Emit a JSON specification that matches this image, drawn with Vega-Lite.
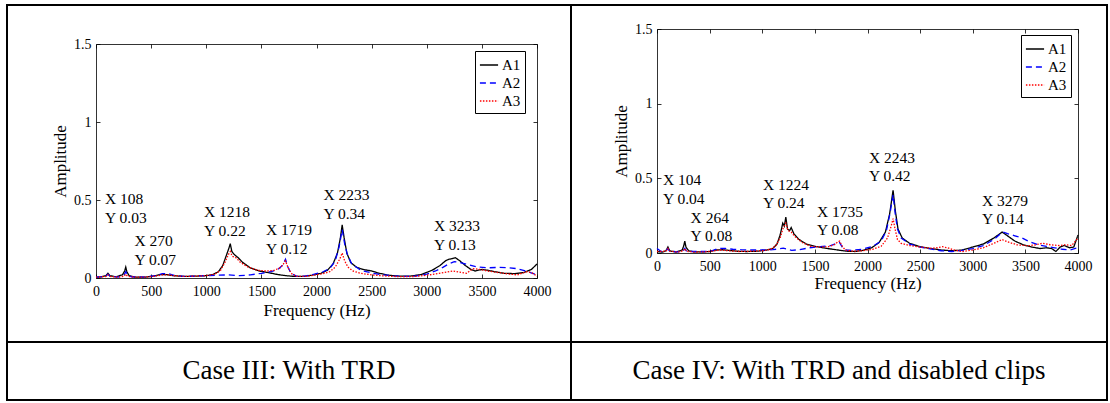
{
  "$schema": "https://vega.github.io/schema/vega-lite/v6.json",
  "padding": {"left": 6, "top": 4, "right": 0, "bottom": 0},
  "background": "white",
  "config": {
    "font": "Liberation Serif",
    "view": {"stroke": "black", "strokeWidth": 2},
    "concat": {"spacing": 0},
    "style": {"guide-label": {"font": "Liberation Serif"}, "guide-title": {"font": "Liberation Serif"}},
    "axis": {"grid": false, "domainColor": "black", "tickColor": "black", "labelColor": "black", "titleColor": "black", "labelFontSize": 14, "titleFontSize": 17, "titleFontWeight": "normal", "labelFont": "Liberation Serif", "titleFont": "Liberation Serif", "domainWidth": 0.8, "tickWidth": 0.8, "labelFlush": false, "labelOverlap": false},
    "legend": {"strokeColor": "black", "fillColor": "white", "padding": 4, "labelFontSize": 15, "labelFont": "Liberation Serif", "labelColor": "black", "symbolType": "stroke", "symbolSize": 330, "symbolStrokeWidth": 1.5, "rowPadding": 0, "labelOffset": 3},
    "text": {"color": "black", "font": "Liberation Serif"}
  },
  "resolve": {"scale": {"color": "independent", "strokeDash": "independent"}, "legend": {"color": "independent", "strokeDash": "independent"}},
  "datasets": {
    "c3": [
      {"f":0,"a":0.005,"s":"A1"},{"f":50,"a":0.008,"s":"A1"},{"f":90,"a":0.015,"s":"A1"},{"f":108,"a":0.03,"s":"A1"},{"f":125,"a":0.015,"s":"A1"},{"f":180,"a":0.008,"s":"A1"},{"f":240,"a":0.02,"s":"A1"},{"f":260,"a":0.045,"s":"A1"},{"f":270,"a":0.07,"s":"A1"},{"f":280,"a":0.04,"s":"A1"},{"f":300,"a":0.015,"s":"A1"},{"f":350,"a":0.006,"s":"A1"},{"f":450,"a":0.006,"s":"A1"},{"f":520,"a":0.012,"s":"A1"},{"f":580,"a":0.022,"s":"A1"},{"f":640,"a":0.022,"s":"A1"},{"f":700,"a":0.015,"s":"A1"},{"f":800,"a":0.01,"s":"A1"},{"f":900,"a":0.012,"s":"A1"},{"f":1000,"a":0.015,"s":"A1"},{"f":1060,"a":0.022,"s":"A1"},{"f":1110,"a":0.04,"s":"A1"},{"f":1150,"a":0.08,"s":"A1"},{"f":1180,"a":0.14,"s":"A1"},{"f":1205,"a":0.19,"s":"A1"},{"f":1218,"a":0.22,"s":"A1"},{"f":1232,"a":0.17,"s":"A1"},{"f":1255,"a":0.15,"s":"A1"},{"f":1290,"a":0.13,"s":"A1"},{"f":1330,"a":0.1,"s":"A1"},{"f":1400,"a":0.065,"s":"A1"},{"f":1480,"a":0.045,"s":"A1"},{"f":1560,"a":0.035,"s":"A1"},{"f":1650,"a":0.022,"s":"A1"},{"f":1720,"a":0.015,"s":"A1"},{"f":1800,"a":0.01,"s":"A1"},{"f":1880,"a":0.01,"s":"A1"},{"f":1960,"a":0.018,"s":"A1"},{"f":2040,"a":0.03,"s":"A1"},{"f":2100,"a":0.05,"s":"A1"},{"f":2150,"a":0.09,"s":"A1"},{"f":2190,"a":0.16,"s":"A1"},{"f":2215,"a":0.25,"s":"A1"},{"f":2233,"a":0.34,"s":"A1"},{"f":2250,"a":0.26,"s":"A1"},{"f":2275,"a":0.16,"s":"A1"},{"f":2310,"a":0.1,"s":"A1"},{"f":2360,"a":0.07,"s":"A1"},{"f":2420,"a":0.055,"s":"A1"},{"f":2500,"a":0.045,"s":"A1"},{"f":2560,"a":0.032,"s":"A1"},{"f":2650,"a":0.018,"s":"A1"},{"f":2750,"a":0.012,"s":"A1"},{"f":2850,"a":0.012,"s":"A1"},{"f":2950,"a":0.022,"s":"A1"},{"f":3050,"a":0.05,"s":"A1"},{"f":3120,"a":0.08,"s":"A1"},{"f":3170,"a":0.11,"s":"A1"},{"f":3200,"a":0.12,"s":"A1"},{"f":3233,"a":0.125,"s":"A1"},{"f":3260,"a":0.13,"s":"A1"},{"f":3300,"a":0.11,"s":"A1"},{"f":3350,"a":0.08,"s":"A1"},{"f":3400,"a":0.055,"s":"A1"},{"f":3440,"a":0.045,"s":"A1"},{"f":3500,"a":0.055,"s":"A1"},{"f":3550,"a":0.05,"s":"A1"},{"f":3620,"a":0.04,"s":"A1"},{"f":3700,"a":0.03,"s":"A1"},{"f":3800,"a":0.028,"s":"A1"},{"f":3880,"a":0.035,"s":"A1"},{"f":3950,"a":0.055,"s":"A1"},{"f":4000,"a":0.09,"s":"A1"},
      {"f":0,"a":0.005,"s":"A2"},{"f":90,"a":0.012,"s":"A2"},{"f":108,"a":0.025,"s":"A2"},{"f":125,"a":0.012,"s":"A2"},{"f":200,"a":0.006,"s":"A2"},{"f":255,"a":0.02,"s":"A2"},{"f":270,"a":0.04,"s":"A2"},{"f":285,"a":0.02,"s":"A2"},{"f":320,"a":0.008,"s":"A2"},{"f":450,"a":0.006,"s":"A2"},{"f":540,"a":0.015,"s":"A2"},{"f":600,"a":0.028,"s":"A2"},{"f":660,"a":0.028,"s":"A2"},{"f":720,"a":0.015,"s":"A2"},{"f":800,"a":0.01,"s":"A2"},{"f":900,"a":0.012,"s":"A2"},{"f":1000,"a":0.015,"s":"A2"},{"f":1100,"a":0.018,"s":"A2"},{"f":1200,"a":0.02,"s":"A2"},{"f":1300,"a":0.015,"s":"A2"},{"f":1400,"a":0.02,"s":"A2"},{"f":1500,"a":0.03,"s":"A2"},{"f":1580,"a":0.04,"s":"A2"},{"f":1650,"a":0.055,"s":"A2"},{"f":1690,"a":0.08,"s":"A2"},{"f":1719,"a":0.12,"s":"A2"},{"f":1740,"a":0.07,"s":"A2"},{"f":1770,"a":0.03,"s":"A2"},{"f":1820,"a":0.01,"s":"A2"},{"f":1900,"a":0.012,"s":"A2"},{"f":1980,"a":0.025,"s":"A2"},{"f":2060,"a":0.04,"s":"A2"},{"f":2120,"a":0.06,"s":"A2"},{"f":2170,"a":0.11,"s":"A2"},{"f":2205,"a":0.2,"s":"A2"},{"f":2233,"a":0.31,"s":"A2"},{"f":2255,"a":0.22,"s":"A2"},{"f":2280,"a":0.15,"s":"A2"},{"f":2320,"a":0.09,"s":"A2"},{"f":2400,"a":0.05,"s":"A2"},{"f":2500,"a":0.032,"s":"A2"},{"f":2600,"a":0.02,"s":"A2"},{"f":2700,"a":0.014,"s":"A2"},{"f":2800,"a":0.01,"s":"A2"},{"f":2900,"a":0.012,"s":"A2"},{"f":3000,"a":0.025,"s":"A2"},{"f":3080,"a":0.045,"s":"A2"},{"f":3150,"a":0.07,"s":"A2"},{"f":3200,"a":0.09,"s":"A2"},{"f":3250,"a":0.105,"s":"A2"},{"f":3300,"a":0.1,"s":"A2"},{"f":3380,"a":0.085,"s":"A2"},{"f":3450,"a":0.072,"s":"A2"},{"f":3550,"a":0.065,"s":"A2"},{"f":3650,"a":0.068,"s":"A2"},{"f":3750,"a":0.065,"s":"A2"},{"f":3820,"a":0.06,"s":"A2"},{"f":3900,"a":0.045,"s":"A2"},{"f":3960,"a":0.03,"s":"A2"},{"f":4000,"a":0.02,"s":"A2"},
      {"f":0,"a":0.005,"s":"A3"},{"f":90,"a":0.01,"s":"A3"},{"f":108,"a":0.02,"s":"A3"},{"f":125,"a":0.01,"s":"A3"},{"f":200,"a":0.005,"s":"A3"},{"f":255,"a":0.012,"s":"A3"},{"f":270,"a":0.025,"s":"A3"},{"f":285,"a":0.012,"s":"A3"},{"f":350,"a":0.005,"s":"A3"},{"f":450,"a":0.006,"s":"A3"},{"f":540,"a":0.012,"s":"A3"},{"f":600,"a":0.02,"s":"A3"},{"f":660,"a":0.02,"s":"A3"},{"f":720,"a":0.014,"s":"A3"},{"f":800,"a":0.01,"s":"A3"},{"f":900,"a":0.012,"s":"A3"},{"f":1000,"a":0.015,"s":"A3"},{"f":1080,"a":0.025,"s":"A3"},{"f":1130,"a":0.05,"s":"A3"},{"f":1170,"a":0.1,"s":"A3"},{"f":1200,"a":0.15,"s":"A3"},{"f":1218,"a":0.17,"s":"A3"},{"f":1235,"a":0.14,"s":"A3"},{"f":1270,"a":0.13,"s":"A3"},{"f":1310,"a":0.1,"s":"A3"},{"f":1380,"a":0.07,"s":"A3"},{"f":1460,"a":0.05,"s":"A3"},{"f":1540,"a":0.045,"s":"A3"},{"f":1610,"a":0.048,"s":"A3"},{"f":1670,"a":0.065,"s":"A3"},{"f":1700,"a":0.09,"s":"A3"},{"f":1719,"a":0.11,"s":"A3"},{"f":1740,"a":0.07,"s":"A3"},{"f":1770,"a":0.03,"s":"A3"},{"f":1820,"a":0.01,"s":"A3"},{"f":1900,"a":0.01,"s":"A3"},{"f":1980,"a":0.018,"s":"A3"},{"f":2060,"a":0.028,"s":"A3"},{"f":2120,"a":0.04,"s":"A3"},{"f":2170,"a":0.07,"s":"A3"},{"f":2210,"a":0.12,"s":"A3"},{"f":2233,"a":0.16,"s":"A3"},{"f":2255,"a":0.11,"s":"A3"},{"f":2285,"a":0.07,"s":"A3"},{"f":2330,"a":0.045,"s":"A3"},{"f":2400,"a":0.03,"s":"A3"},{"f":2500,"a":0.02,"s":"A3"},{"f":2600,"a":0.014,"s":"A3"},{"f":2700,"a":0.01,"s":"A3"},{"f":2800,"a":0.008,"s":"A3"},{"f":2900,"a":0.01,"s":"A3"},{"f":3000,"a":0.018,"s":"A3"},{"f":3100,"a":0.028,"s":"A3"},{"f":3180,"a":0.038,"s":"A3"},{"f":3240,"a":0.045,"s":"A3"},{"f":3300,"a":0.038,"s":"A3"},{"f":3360,"a":0.03,"s":"A3"},{"f":3420,"a":0.06,"s":"A3"},{"f":3480,"a":0.055,"s":"A3"},{"f":3550,"a":0.045,"s":"A3"},{"f":3650,"a":0.035,"s":"A3"},{"f":3750,"a":0.025,"s":"A3"},{"f":3820,"a":0.02,"s":"A3"},{"f":3900,"a":0.04,"s":"A3"},{"f":3950,"a":0.035,"s":"A3"},{"f":4000,"a":0.012,"s":"A3"}
    ],
    "c4": [
      {"f":0,"a":0.01,"s":"A1"},{"f":50,"a":0.006,"s":"A1"},{"f":85,"a":0.015,"s":"A1"},{"f":104,"a":0.04,"s":"A1"},{"f":120,"a":0.015,"s":"A1"},{"f":180,"a":0.006,"s":"A1"},{"f":240,"a":0.02,"s":"A1"},{"f":255,"a":0.05,"s":"A1"},{"f":264,"a":0.08,"s":"A1"},{"f":275,"a":0.04,"s":"A1"},{"f":300,"a":0.015,"s":"A1"},{"f":350,"a":0.008,"s":"A1"},{"f":450,"a":0.008,"s":"A1"},{"f":500,"a":0.01,"s":"A1"},{"f":560,"a":0.02,"s":"A1"},{"f":620,"a":0.022,"s":"A1"},{"f":680,"a":0.018,"s":"A1"},{"f":760,"a":0.012,"s":"A1"},{"f":850,"a":0.01,"s":"A1"},{"f":950,"a":0.012,"s":"A1"},{"f":1030,"a":0.018,"s":"A1"},{"f":1100,"a":0.03,"s":"A1"},{"f":1140,"a":0.06,"s":"A1"},{"f":1170,"a":0.12,"s":"A1"},{"f":1195,"a":0.2,"s":"A1"},{"f":1210,"a":0.18,"s":"A1"},{"f":1224,"a":0.24,"s":"A1"},{"f":1240,"a":0.16,"s":"A1"},{"f":1260,"a":0.15,"s":"A1"},{"f":1275,"a":0.17,"s":"A1"},{"f":1300,"a":0.13,"s":"A1"},{"f":1350,"a":0.09,"s":"A1"},{"f":1420,"a":0.06,"s":"A1"},{"f":1500,"a":0.045,"s":"A1"},{"f":1600,"a":0.032,"s":"A1"},{"f":1700,"a":0.022,"s":"A1"},{"f":1800,"a":0.012,"s":"A1"},{"f":1880,"a":0.01,"s":"A1"},{"f":1960,"a":0.018,"s":"A1"},{"f":2040,"a":0.035,"s":"A1"},{"f":2110,"a":0.07,"s":"A1"},{"f":2170,"a":0.14,"s":"A1"},{"f":2210,"a":0.26,"s":"A1"},{"f":2243,"a":0.42,"s":"A1"},{"f":2265,"a":0.28,"s":"A1"},{"f":2290,"a":0.16,"s":"A1"},{"f":2330,"a":0.1,"s":"A1"},{"f":2400,"a":0.065,"s":"A1"},{"f":2500,"a":0.042,"s":"A1"},{"f":2600,"a":0.03,"s":"A1"},{"f":2700,"a":0.02,"s":"A1"},{"f":2800,"a":0.015,"s":"A1"},{"f":2900,"a":0.02,"s":"A1"},{"f":3000,"a":0.04,"s":"A1"},{"f":3100,"a":0.06,"s":"A1"},{"f":3200,"a":0.1,"s":"A1"},{"f":3250,"a":0.125,"s":"A1"},{"f":3279,"a":0.14,"s":"A1"},{"f":3320,"a":0.12,"s":"A1"},{"f":3400,"a":0.08,"s":"A1"},{"f":3480,"a":0.055,"s":"A1"},{"f":3560,"a":0.04,"s":"A1"},{"f":3640,"a":0.03,"s":"A1"},{"f":3700,"a":0.035,"s":"A1"},{"f":3750,"a":0.03,"s":"A1"},{"f":3790,"a":0.01,"s":"A1"},{"f":3830,"a":0.04,"s":"A1"},{"f":3870,"a":0.05,"s":"A1"},{"f":3920,"a":0.035,"s":"A1"},{"f":3960,"a":0.04,"s":"A1"},{"f":4000,"a":0.12,"s":"A1"},
      {"f":0,"a":0.03,"s":"A2"},{"f":40,"a":0.01,"s":"A2"},{"f":85,"a":0.015,"s":"A2"},{"f":104,"a":0.03,"s":"A2"},{"f":120,"a":0.012,"s":"A2"},{"f":200,"a":0.008,"s":"A2"},{"f":250,"a":0.015,"s":"A2"},{"f":264,"a":0.03,"s":"A2"},{"f":280,"a":0.012,"s":"A2"},{"f":350,"a":0.01,"s":"A2"},{"f":450,"a":0.01,"s":"A2"},{"f":520,"a":0.015,"s":"A2"},{"f":580,"a":0.03,"s":"A2"},{"f":650,"a":0.03,"s":"A2"},{"f":720,"a":0.025,"s":"A2"},{"f":800,"a":0.022,"s":"A2"},{"f":900,"a":0.02,"s":"A2"},{"f":1000,"a":0.02,"s":"A2"},{"f":1100,"a":0.022,"s":"A2"},{"f":1200,"a":0.032,"s":"A2"},{"f":1280,"a":0.018,"s":"A2"},{"f":1350,"a":0.022,"s":"A2"},{"f":1450,"a":0.035,"s":"A2"},{"f":1550,"a":0.042,"s":"A2"},{"f":1650,"a":0.05,"s":"A2"},{"f":1710,"a":0.065,"s":"A2"},{"f":1735,"a":0.07,"s":"A2"},{"f":1760,"a":0.04,"s":"A2"},{"f":1790,"a":0.02,"s":"A2"},{"f":1850,"a":0.018,"s":"A2"},{"f":1950,"a":0.025,"s":"A2"},{"f":2050,"a":0.045,"s":"A2"},{"f":2130,"a":0.08,"s":"A2"},{"f":2180,"a":0.15,"s":"A2"},{"f":2215,"a":0.27,"s":"A2"},{"f":2243,"a":0.39,"s":"A2"},{"f":2262,"a":0.27,"s":"A2"},{"f":2285,"a":0.16,"s":"A2"},{"f":2320,"a":0.1,"s":"A2"},{"f":2400,"a":0.06,"s":"A2"},{"f":2500,"a":0.04,"s":"A2"},{"f":2600,"a":0.027,"s":"A2"},{"f":2700,"a":0.015,"s":"A2"},{"f":2800,"a":0.01,"s":"A2"},{"f":2900,"a":0.018,"s":"A2"},{"f":3000,"a":0.03,"s":"A2"},{"f":3100,"a":0.05,"s":"A2"},{"f":3200,"a":0.09,"s":"A2"},{"f":3250,"a":0.12,"s":"A2"},{"f":3290,"a":0.14,"s":"A2"},{"f":3330,"a":0.13,"s":"A2"},{"f":3400,"a":0.115,"s":"A2"},{"f":3470,"a":0.1,"s":"A2"},{"f":3540,"a":0.075,"s":"A2"},{"f":3620,"a":0.055,"s":"A2"},{"f":3700,"a":0.045,"s":"A2"},{"f":3780,"a":0.035,"s":"A2"},{"f":3850,"a":0.025,"s":"A2"},{"f":3920,"a":0.02,"s":"A2"},{"f":4000,"a":0.035,"s":"A2"},
      {"f":0,"a":0.01,"s":"A3"},{"f":85,"a":0.012,"s":"A3"},{"f":104,"a":0.03,"s":"A3"},{"f":120,"a":0.012,"s":"A3"},{"f":200,"a":0.006,"s":"A3"},{"f":250,"a":0.015,"s":"A3"},{"f":264,"a":0.03,"s":"A3"},{"f":280,"a":0.012,"s":"A3"},{"f":350,"a":0.006,"s":"A3"},{"f":450,"a":0.008,"s":"A3"},{"f":520,"a":0.012,"s":"A3"},{"f":600,"a":0.02,"s":"A3"},{"f":680,"a":0.015,"s":"A3"},{"f":780,"a":0.01,"s":"A3"},{"f":900,"a":0.012,"s":"A3"},{"f":1000,"a":0.015,"s":"A3"},{"f":1080,"a":0.025,"s":"A3"},{"f":1130,"a":0.05,"s":"A3"},{"f":1170,"a":0.1,"s":"A3"},{"f":1200,"a":0.17,"s":"A3"},{"f":1224,"a":0.2,"s":"A3"},{"f":1245,"a":0.15,"s":"A3"},{"f":1275,"a":0.14,"s":"A3"},{"f":1310,"a":0.11,"s":"A3"},{"f":1380,"a":0.07,"s":"A3"},{"f":1460,"a":0.045,"s":"A3"},{"f":1550,"a":0.04,"s":"A3"},{"f":1630,"a":0.042,"s":"A3"},{"f":1690,"a":0.058,"s":"A3"},{"f":1720,"a":0.075,"s":"A3"},{"f":1735,"a":0.08,"s":"A3"},{"f":1760,"a":0.045,"s":"A3"},{"f":1790,"a":0.02,"s":"A3"},{"f":1860,"a":0.012,"s":"A3"},{"f":1950,"a":0.015,"s":"A3"},{"f":2050,"a":0.025,"s":"A3"},{"f":2130,"a":0.045,"s":"A3"},{"f":2190,"a":0.1,"s":"A3"},{"f":2225,"a":0.18,"s":"A3"},{"f":2243,"a":0.23,"s":"A3"},{"f":2262,"a":0.16,"s":"A3"},{"f":2285,"a":0.09,"s":"A3"},{"f":2320,"a":0.065,"s":"A3"},{"f":2400,"a":0.05,"s":"A3"},{"f":2500,"a":0.04,"s":"A3"},{"f":2600,"a":0.032,"s":"A3"},{"f":2660,"a":0.035,"s":"A3"},{"f":2710,"a":0.042,"s":"A3"},{"f":2760,"a":0.035,"s":"A3"},{"f":2820,"a":0.02,"s":"A3"},{"f":2900,"a":0.01,"s":"A3"},{"f":3000,"a":0.02,"s":"A3"},{"f":3100,"a":0.035,"s":"A3"},{"f":3200,"a":0.065,"s":"A3"},{"f":3279,"a":0.09,"s":"A3"},{"f":3330,"a":0.075,"s":"A3"},{"f":3420,"a":0.055,"s":"A3"},{"f":3520,"a":0.048,"s":"A3"},{"f":3600,"a":0.055,"s":"A3"},{"f":3660,"a":0.065,"s":"A3"},{"f":3740,"a":0.055,"s":"A3"},{"f":3820,"a":0.05,"s":"A3"},{"f":3880,"a":0.055,"s":"A3"},{"f":3940,"a":0.05,"s":"A3"},{"f":4000,"a":0.1,"s":"A3"}
    ],
    "l3": [
      {"lx":82,"ly":0.506,"t":"X 108"},{"lx":82,"ly":0.385,"t":"Y 0.03"},
      {"lx":349,"ly":0.237,"t":"X 270"},{"lx":349,"ly":0.115,"t":"Y 0.07"},
      {"lx":980,"ly":0.423,"t":"X 1218"},{"lx":980,"ly":0.3,"t":"Y 0.22"},
      {"lx":1542,"ly":0.308,"t":"X 1719"},{"lx":1542,"ly":0.186,"t":"Y 0.12"},
      {"lx":2063,"ly":0.532,"t":"X 2233"},{"lx":2063,"ly":0.41,"t":"Y 0.34"},
      {"lx":3066,"ly":0.333,"t":"X 3233"},{"lx":3066,"ly":0.21,"t":"Y 0.13"}
    ],
    "l4": [
      {"lx":57,"ly":0.489,"t":"X 104"},{"lx":57,"ly":0.362,"t":"Y 0.04"},
      {"lx":319,"ly":0.234,"t":"X 264"},{"lx":319,"ly":0.114,"t":"Y 0.08"},
      {"lx":1007,"ly":0.455,"t":"X 1224"},{"lx":1007,"ly":0.335,"t":"Y 0.24"},
      {"lx":1520,"ly":0.275,"t":"X 1735"},{"lx":1520,"ly":0.154,"t":"Y 0.08"},
      {"lx":2014,"ly":0.636,"t":"X 2243"},{"lx":2014,"ly":0.516,"t":"Y 0.42"},
      {"lx":3088,"ly":0.348,"t":"X 3279"},{"lx":3088,"ly":0.228,"t":"Y 0.14"}
    ]
  },
  "columns": 2,
  "spacing": 0,
  "bounds": "flush",
  "concat": [
    {
      "width": 564, "height": 337,
      "layer": [
        {
          "data": {"name": "c3"},
          "mark": {"type": "line", "strokeWidth": 1.3},
          "encoding": {
            "x": {"field": "f", "type": "quantitative", "scale": {"domain": [0, 4000], "range": [89, 530], "nice": false, "zero": false},
              "axis": {"orient": "bottom", "offset": -64, "values": [0,500,1000,1500,2000,2500,3000,3500,4000], "format": "d", "title": "Frequency (Hz)", "tickSize": -4, "labelPadding": 10, "titlePadding": 4, "labelFont": "Liberation Serif", "titleFont": "Liberation Serif"}},
            "y": {"field": "a", "type": "quantitative", "scale": {"domain": [0, 1.5], "range": [273, 39], "nice": false},
              "axis": {"orient": "left", "offset": -89, "values": [0, 0.5, 1, 1.5], "labelExpr": "format(datum.value, '~g')", "title": "Amplitude", "tickSize": -4, "labelPadding": 9, "titlePadding": 4, "labelFont": "Liberation Serif", "titleFont": "Liberation Serif"}},
            "color": {"field": "s", "type": "nominal", "scale": {"domain": ["A1","A2","A3"], "range": ["#000000","#0000ff","#ff0000"]}, "legend": {"title": null, "orient": "none", "legendX": 468, "legendY": 46, "labelFont": "Liberation Serif"}},
            "strokeDash": {"field": "s", "type": "nominal", "scale": {"domain": ["A1","A2","A3"], "range": [[1,0],[6,4],[1.5,1.5]]}, "legend": {"title": null, "orient": "none", "legendX": 468, "legendY": 46, "labelFont": "Liberation Serif"}}
          }
        },
        {
          "data": {"name": "l3"},
          "mark": {"type": "text", "align": "left", "baseline": "middle", "fontSize": 15.5},
          "encoding": {
            "x": {"field": "lx", "type": "quantitative", "axis": {"orient": "top", "offset": -39, "values": [0,500,1000,1500,2000,2500,3000,3500,4000], "labels": false, "title": null, "tickSize": -4}},
            "y": {"field": "ly", "type": "quantitative", "axis": {"orient": "right", "offset": -34, "values": [0, 0.5, 1, 1.5], "labels": false, "title": null, "tickSize": -4}},
            "text": {"field": "t"}
          }
        }
      ],
      "resolve": {"axis": {"x": "independent", "y": "independent"}}
    },
    {
      "width": 536, "height": 337,
      "layer": [
        {
          "data": {"name": "c4"},
          "mark": {"type": "line", "strokeWidth": 1.3},
          "encoding": {
            "x": {"field": "f", "type": "quantitative", "scale": {"domain": [0, 4000], "range": [86, 507], "nice": false, "zero": false},
              "axis": {"orient": "bottom", "offset": -89, "values": [0,500,1000,1500,2000,2500,3000,3500,4000], "format": "d", "title": "Frequency (Hz)", "tickSize": -4, "labelPadding": 10, "titlePadding": 2, "labelFont": "Liberation Serif", "titleFont": "Liberation Serif"}},
            "y": {"field": "a", "type": "quantitative", "scale": {"domain": [0, 1.5], "range": [248, 24], "nice": false},
              "axis": {"orient": "left", "offset": -86, "values": [0, 0.5, 1, 1.5], "labelExpr": "format(datum.value, '~g')", "title": "Amplitude", "tickSize": -4, "labelPadding": 9, "titlePadding": 4, "labelFont": "Liberation Serif", "titleFont": "Liberation Serif"}},
            "color": {"field": "s", "type": "nominal", "scale": {"domain": ["A1","A2","A3"], "range": ["#000000","#0000ff","#ff0000"]}, "legend": {"title": null, "orient": "none", "legendX": 450, "legendY": 30, "labelFont": "Liberation Serif"}},
            "strokeDash": {"field": "s", "type": "nominal", "scale": {"domain": ["A1","A2","A3"], "range": [[1,0],[6,4],[1.5,1.5]]}, "legend": {"title": null, "orient": "none", "legendX": 450, "legendY": 30, "labelFont": "Liberation Serif"}}
          }
        },
        {
          "data": {"name": "l4"},
          "mark": {"type": "text", "align": "left", "baseline": "middle", "fontSize": 15.5},
          "encoding": {
            "x": {"field": "lx", "type": "quantitative", "axis": {"orient": "top", "offset": -24, "values": [0,500,1000,1500,2000,2500,3000,3500,4000], "labels": false, "title": null, "tickSize": -4}},
            "y": {"field": "ly", "type": "quantitative", "axis": {"orient": "right", "offset": -29, "values": [0, 0.5, 1, 1.5], "labels": false, "title": null, "tickSize": -4}},
            "text": {"field": "t"}
          }
        }
      ],
      "resolve": {"axis": {"x": "independent", "y": "independent"}}
    },
    {
      "width": 564, "height": 58,
      "data": {"values": [{"t": "Case III: With TRD"}]},
      "mark": {"type": "text", "fontSize": 27, "align": "center", "baseline": "middle"},
      "encoding": {
        "x": {"datum": 0.5, "type": "quantitative", "scale": {"domain": [0, 1]}, "axis": null},
        "y": {"datum": 0.5, "type": "quantitative", "scale": {"domain": [0, 1]}, "axis": null},
        "text": {"field": "t"}
      }
    },
    {
      "width": 536, "height": 58,
      "data": {"values": [{"t": "Case IV: With TRD and disabled clips"}]},
      "mark": {"type": "text", "fontSize": 27, "align": "center", "baseline": "middle"},
      "encoding": {
        "x": {"datum": 0.5, "type": "quantitative", "scale": {"domain": [0, 1]}, "axis": null},
        "y": {"datum": 0.5, "type": "quantitative", "scale": {"domain": [0, 1]}, "axis": null},
        "text": {"field": "t"}
      }
    }
  ]
}
